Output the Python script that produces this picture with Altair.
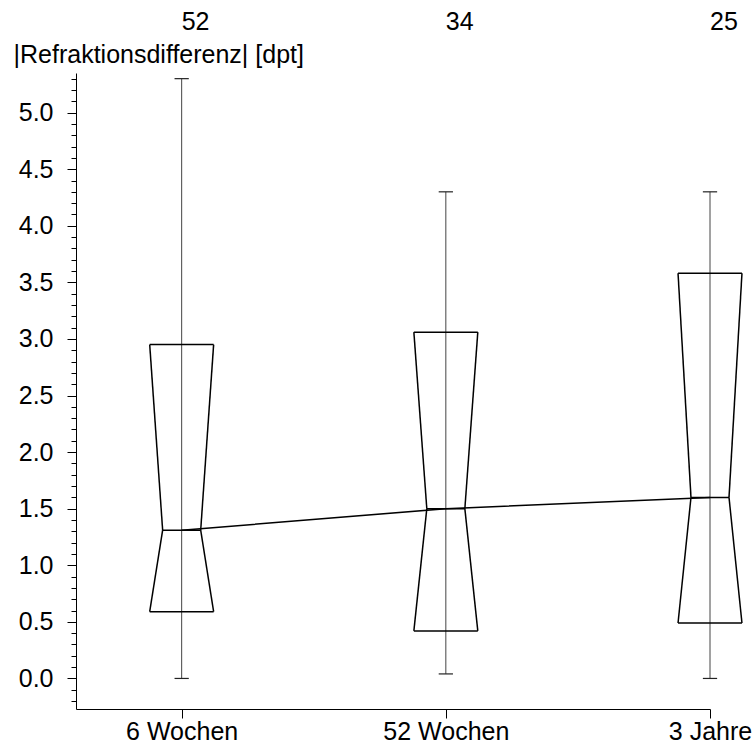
import json
import altair as alt
import pandas as pd

# ---- data ----
categories = ["6 Wochen", "52 Wochen", "3 Jahre"]
n_values = [52, 34, 25]
whisker_low = [0.0, 0.04, 0.0]
q1_values = [0.59, 0.42, 0.49]
median_values = [1.31, 1.50, 1.60]
q3_values = [2.95, 3.06, 3.58]
whisker_high = [5.30, 4.30, 4.30]

major_ticks = [0.0, 0.5, 1.0, 1.5, 2.0, 2.5, 3.0, 3.5, 4.0, 4.5, 5.0]
minor_ticks = [round(-0.2 + 0.1 * i, 1) for i in range(56)]

# ---- style constants (in x-scale units) ----
BOX_HALF = 0.121
NOTCH_HALF = 0.072
CAP_HALF = 0.027
FONT = "Liberation Sans"
FS = 25

# ---- build tables from the arrays ----
box_rows, whisk_rows, cap_rows, centre_rows = [], [], [], []
for i, cat in enumerate(categories):
    lo, a, m, b, hi = whisker_low[i], q1_values[i], median_values[i], q3_values[i], whisker_high[i]
    c = i
    segs = [
        (c - BOX_HALF, a, c + BOX_HALF, a),
        (c - BOX_HALF, b, c + BOX_HALF, b),
        (c - BOX_HALF, a, c - NOTCH_HALF, m),
        (c + BOX_HALF, a, c + NOTCH_HALF, m),
        (c - NOTCH_HALF, m, c - BOX_HALF, b),
        (c + NOTCH_HALF, m, c + BOX_HALF, b),
        (c - NOTCH_HALF, m, c + NOTCH_HALF, m),
    ]
    for x1, y1, x2, y2 in segs:
        box_rows.append({"cat": cat, "x": x1, "y": y1, "x2": x2, "y2": y2})
    whisk_rows.append({"cat": cat, "x": c, "y": lo, "x2": c, "y2": hi})
    cap_rows.append({"cat": cat, "x": c - CAP_HALF, "y": lo, "x2": c + CAP_HALF, "y2": lo})
    cap_rows.append({"cat": cat, "x": c - CAP_HALF, "y": hi, "x2": c + CAP_HALF, "y2": hi})
    centre_rows.append({"cat": cat, "idx": c, "median": m, "n": str(n_values[i])})

box_df = pd.DataFrame(box_rows)
whisk_df = pd.DataFrame(whisk_rows)
cap_df = pd.DataFrame(cap_rows)
centre_df = pd.DataFrame(centre_rows)

xscale = alt.Scale(domain=[-0.4, 2], nice=False, zero=False)
yscale = alt.Scale(domain=[-0.27, 5.35], nice=False, zero=False)

label_expr = json.dumps(categories) + "[round(datum.value)]"

x_axis = alt.Axis(values=[0, 1, 2], labelExpr=label_expr, title="", grid=False,
                  tickSize=9, labelPadding=1, labelFontSize=FS, labelFont=FONT,
                  labelColor="black", domainColor="black", tickColor="black",
                  labelFlush=False, labelOverlap=False)

y_major = alt.Axis(values=major_ticks, format=".1f", grid=False, tickSize=9,
                   labelPadding=14, labelFontSize=FS, labelFont=FONT,
                   labelColor="black", domainColor="black", tickColor="black",
                   title="|Refraktionsdifferenz| [dpt]", titleAngle=0,
                   titleAlign="left", titleBaseline="alphabetic",
                   titleX=-63, titleY=-11, titleFont=FONT, titleFontSize=FS,
                   titleFontWeight="normal", titleColor="black", orient="left",
                   labelFlush=False, labelOverlap=False)

y_minor = alt.Axis(values=minor_ticks, labels=False, grid=False, tickSize=5,
                   domain=False, tickColor="black", title="", orient="left")

boxes = alt.Chart(box_df).mark_rule(color="black", strokeWidth=1.5).encode(
    x=alt.X("x:Q", scale=xscale, axis=x_axis),
    x2="x2:Q",
    y=alt.Y("y:Q", scale=yscale, axis=y_major),
    y2="y2:Q",
)

whiskers = alt.Chart(whisk_df).mark_rule(color="#444444", strokeWidth=1).encode(
    x=alt.X("x:Q", scale=xscale, axis=x_axis),
    x2="x2:Q",
    y=alt.Y("y:Q", scale=yscale, axis=y_minor),
    y2="y2:Q",
)

caps = alt.Chart(cap_df).mark_rule(color="#222222", strokeWidth=1.2).encode(
    x=alt.X("x:Q", scale=xscale, axis=x_axis),
    x2="x2:Q",
    y=alt.Y("y:Q", scale=yscale, axis=None),
    y2="y2:Q",
)

median_line = alt.Chart(centre_df).mark_line(color="black", strokeWidth=1.5).encode(
    x=alt.X("idx:Q", scale=xscale, axis=x_axis),
    y=alt.Y("median:Q", scale=yscale, axis=None),
)

n_labels = alt.Chart(centre_df).mark_text(
    align="left", baseline="alphabetic", font=FONT, fontSize=FS, color="black"
).encode(
    x=alt.X("idx:Q", scale=xscale, axis=x_axis),
    y=alt.value(-43),
    text="n:N",
)

chart = alt.layer(whiskers, caps, boxes, median_line, n_labels).resolve_scale(
    x="shared", y="shared"
).resolve_axis(y="independent").properties(
    width=634, height=636,
    autosize=alt.AutoSizeParams(type="none"),
    padding={"left": 76, "top": 73, "right": 44, "bottom": 36},
).configure(font=FONT, background="white").configure_view(strokeWidth=0)

chart.save("out.html", embed_options={"renderer": "svg", "actions": False})
